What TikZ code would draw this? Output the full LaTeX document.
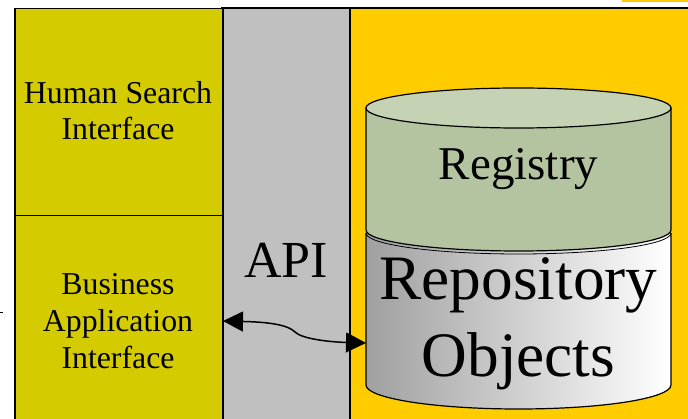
\documentclass[tikz,border=0pt]{standalone}
\usepackage{fontspec}
\setmainfont{Liberation Serif}
\usetikzlibrary{arrows.meta}
\definecolor{paneolive}{RGB}{212,204,0}
\definecolor{apigray}{RGB}{192,192,192}
\definecolor{zoneyellow}{RGB}{255,204,0}
\definecolor{regside}{RGB}{181,196,160}
\definecolor{regtop}{RGB}{197,211,180}
\definecolor{repogray}{RGB}{160,160,160}
\tikzset{
  frameline/.style={draw=black, line width=1.5pt},
  panelbox/.style={frameline, fill=paneolive, inner sep=0pt, anchor=north west},
  paneltext/.style={align=center, anchor=base, font=\fontsize{31.8}{36}\selectfont},
  cylline/.style={draw=black, line width=1.2pt},
  biarrow/.style={line width=1.5pt,
    {Triangle[length=20pt,width=20pt]}-{Triangle[length=20pt,width=20pt]}},
}
\begin{document}
\begin{tikzpicture}[x=1pt,y=-1pt]
\clip (0,0) rectangle (688,419);
% backgrounds of the three zones
\fill[zoneyellow] (622,0) rectangle (688,1.6);
\path[frameline, fill=zoneyellow] (350,8) rectangle (700,440);
\path[frameline, fill=apigray] (222,8) rectangle (350,440);
% left column: two interface boxes
\node[panelbox, minimum width=208pt, minimum height=207pt] (hsi) at (14,8) {};
\node[panelbox, minimum width=208pt, minimum height=230pt] (bai) at (14,215) {};
% multi-line labels are placed by the baseline of their last line
\node[paneltext] (hsitext) at (118,140) {Human Search\\Interface};
\node[paneltext, font=\fontsize{31.8}{37}\selectfont] (baitext) at (118,369) {Business\\Application\\Interface};
\draw[line width=1pt] (0,313) -- (2.5,313);
% API column label
\node[anchor=base, font=\fontsize{52}{60}\selectfont] (api) at (286,278) {API};
% repository part of the cylinder
\path[shade, left color=repogray, right color=white]
  (366,233) -- (366,385) arc[start angle=180, end angle=0, x radius=152.5, y radius=24]
  -- (671,233) -- cycle;
\draw[cylline] (366,233) -- (366,385) arc[start angle=180, end angle=0, x radius=152.5, y radius=24]
  -- (671,233);
\draw[line width=0.8pt] (366,233) arc[start angle=180, end angle=0, x radius=152.5, y radius=21];
% registry part of the cylinder
\draw[cylline, fill=regside] (366,108) -- (366,230)
  arc[start angle=180, end angle=0, x radius=152.5, y radius=21] -- (671,108) -- cycle;
\draw[cylline, fill=regtop] (518.5,108) ellipse[x radius=152.5, y radius=20];
\node[anchor=base, font=\fontsize{47}{56}\selectfont] (reg) at (518.5,180) {Registry};
\node[anchor=base, align=center, font=\fontsize{63.3}{77}\selectfont] (repo) at (518.5,377) {Repository\\Objects};
% connector between the application interface and the repository
\coordinate (busport) at (223,321);
\coordinate (repoport) at (366,343);
\draw[biarrow] (busport) .. controls (265,322) and (287,324) .. (295,332)
  .. controls (302,339) and (330,342) .. (repoport);
\end{tikzpicture}
\end{document}
